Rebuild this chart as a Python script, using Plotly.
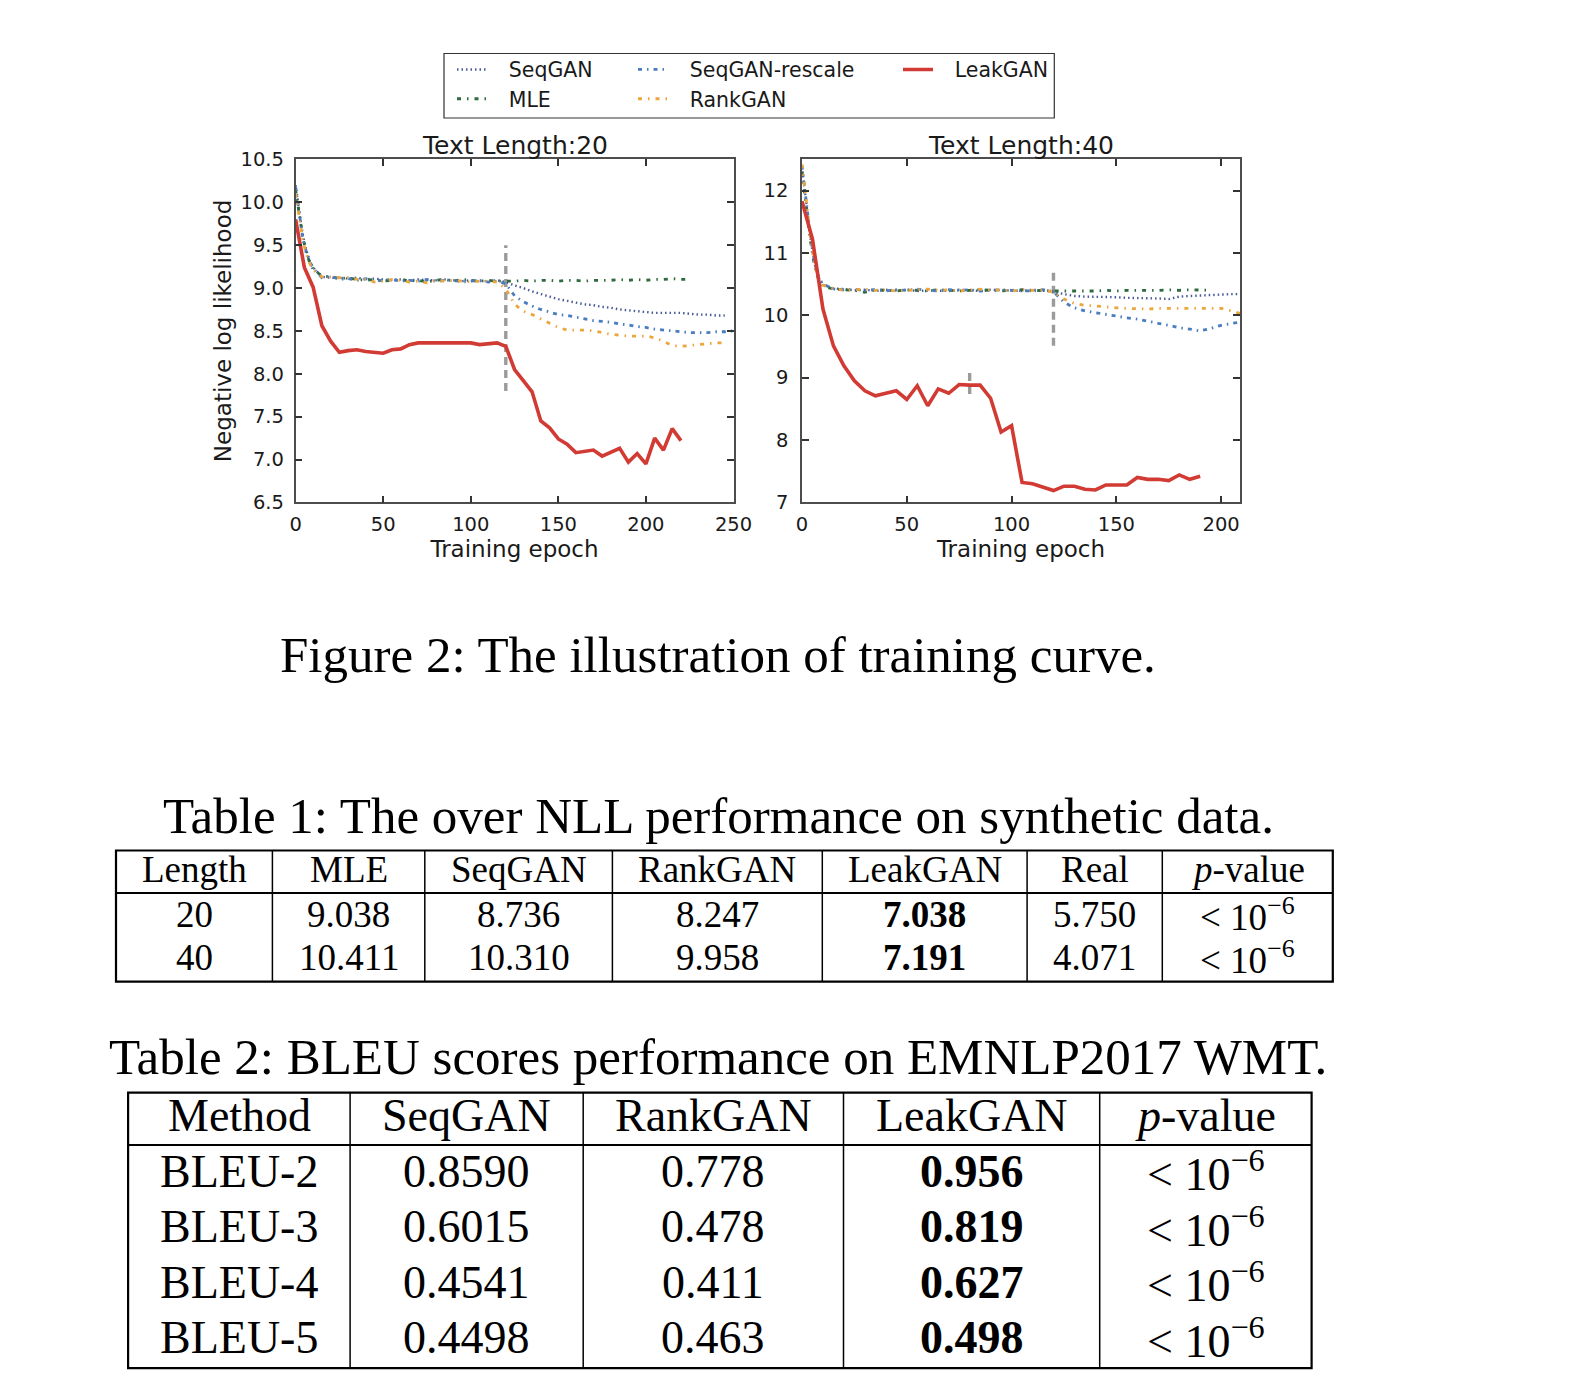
import plotly.graph_objects as go

W, H = 1582, 1386

# ---------------- data: Text Length 20 ----------------
EP_PRE = [0, 2, 4, 6, 8, 10, 15, 20, 25, 30, 35, 40, 45, 50, 55, 60, 65, 70,
          75, 80, 85, 90, 95, 100, 105, 110, 115, 120]

L20_MLE_EP_POST = [125, 130, 135, 140, 145, 150, 155, 160, 165, 170, 175, 180,
                   185, 190, 195, 200, 205, 210, 215, 220, 225]
L20_MLE = [10.15, 9.85, 9.60, 9.42, 9.30, 9.22, 9.14, 9.13, 9.11, 9.12, 9.10, 9.09,
           9.10, 9.08, 9.09, 9.10, 9.08, 9.09, 9.07, 9.09, 9.10, 9.08, 9.10, 9.09,
           9.08, 9.09, 9.08, 9.08,
           9.08, 9.09, 9.08, 9.09, 9.09, 9.08, 9.09, 9.09, 9.08, 9.09, 9.09, 9.09,
           9.10, 9.09, 9.10, 9.09, 9.10, 9.10, 9.11, 9.10, 9.10]

L20_SEQ_EP_POST = [125, 130, 135, 140, 145, 150, 155, 160, 165, 170, 175, 180,
                   185, 190, 195, 200, 205, 210, 215, 220, 225, 230, 235, 240, 245]
L20_SEQ = [10.20, 9.90, 9.63, 9.45, 9.32, 9.24, 9.13, 9.12, 9.12, 9.11, 9.12, 9.10,
           9.11, 9.10, 9.09, 9.10, 9.09, 9.10, 9.09, 9.09, 9.10, 9.09, 9.08, 9.09,
           9.08, 9.08, 9.09, 9.07,
           9.03, 9.00, 8.96, 8.93, 8.90, 8.87, 8.85, 8.83, 8.81, 8.80, 8.78, 8.77,
           8.75, 8.74, 8.73, 8.72, 8.71, 8.71, 8.71, 8.71, 8.70, 8.69, 8.69, 8.68, 8.68]

L20_RES_EP_POST = [125, 130, 135, 140, 145, 150, 155, 160, 165, 170, 175, 180,
                   185, 190, 195, 200, 205, 210, 215, 220, 225, 230, 235, 240, 245, 250]
L20_RES = [10.18, 9.88, 9.60, 9.43, 9.31, 9.23, 9.12, 9.14, 9.10, 9.11, 9.09, 9.11,
           9.08, 9.09, 9.10, 9.08, 9.09, 9.08, 9.10, 9.08, 9.09, 9.09, 9.07, 9.08,
           9.09, 9.07, 9.08, 9.05,
           8.91, 8.84, 8.79, 8.75, 8.72, 8.69, 8.68, 8.66, 8.64, 8.62, 8.61, 8.60,
           8.58, 8.57, 8.55, 8.54, 8.52, 8.51, 8.50, 8.49, 8.48, 8.48, 8.48, 8.49,
           8.49, 8.50]

L20_RANK_EP_POST = [125, 130, 135, 140, 145, 150, 155, 160, 165, 170, 175, 180,
                    185, 190, 195, 200, 205, 210, 215, 220, 225, 230, 235, 240, 245]
L20_RANK = [10.10, 9.82, 9.58, 9.40, 9.29, 9.21, 9.13, 9.13, 9.12, 9.12, 9.10, 9.10,
            9.07, 9.08, 9.10, 9.09, 9.07, 9.08, 9.06, 9.09, 9.08, 9.09, 9.08, 9.07,
            9.08, 9.08, 9.07, 8.99,
            8.81, 8.73, 8.69, 8.64, 8.59, 8.54, 8.51, 8.51, 8.51, 8.50, 8.48, 8.46,
            8.45, 8.44, 8.44, 8.44, 8.42, 8.38, 8.33, 8.32, 8.33, 8.34, 8.35, 8.36, 8.36]

L20_LEAK_EP = [0, 5, 10, 15, 20, 25, 30, 35, 40, 45, 50, 55, 60, 65, 70, 75, 80,
               85, 90, 95, 100, 105, 110, 115, 120, 125, 130, 135, 140, 145, 150,
               155, 160, 165, 170, 175, 180, 185, 190, 195, 200, 205, 210, 215, 220]
L20_LEAK = [9.80, 9.24, 9.01, 8.56, 8.38, 8.25, 8.27, 8.28, 8.26, 8.25, 8.24, 8.28,
            8.29, 8.34, 8.36, 8.36, 8.36, 8.36, 8.35, 8.36, 8.36, 8.34, 8.35, 8.36,
            8.32, 8.05, 7.92, 7.79, 7.45, 7.37, 7.24, 7.18, 7.08, 7.10, 7.11, 7.04,
            7.08, 7.13, 6.97, 7.07, 6.95, 7.25, 7.11, 7.36, 7.22]

# reference (switch) markers: epoch, y from, y to
L20_MARKS = [(120, 7.80, 9.50)]

# ---------------- data: Text Length 40 ----------------
L40_MLE_EP_POST = [125, 130, 135, 140, 145, 150, 155, 160, 165, 170, 175, 180,
                   185, 190, 195]
L40_MLE = [12.30, 11.72, 11.20, 10.78, 10.57, 10.47, 10.42, 10.41, 10.40, 10.37,
           10.41, 10.40, 10.39, 10.41, 10.40, 10.39, 10.41, 10.40, 10.39, 10.40,
           10.41, 10.40, 10.39, 10.40, 10.41, 10.39, 10.40, 10.39,
           10.39, 10.38, 10.39, 10.39, 10.40, 10.39, 10.40, 10.40, 10.39, 10.40,
           10.41, 10.40, 10.41, 10.40, 10.40]

L40_EP_POST = [125, 130, 135, 140, 145, 150, 155, 160, 165, 170, 175, 180, 185,
               190, 195, 200, 205, 209]
L40_SEQ = [12.38, 11.78, 11.25, 10.82, 10.60, 10.49, 10.43, 10.42, 10.40, 10.41,
           10.39, 10.41, 10.40, 10.41, 10.39, 10.40, 10.40, 10.39, 10.41, 10.40,
           10.39, 10.41, 10.40, 10.40, 10.39, 10.41, 10.40, 10.38,
           10.34, 10.31, 10.30, 10.30, 10.30, 10.29, 10.28, 10.28, 10.27, 10.27,
           10.26, 10.30, 10.31, 10.32, 10.33, 10.33, 10.34, 10.34]
L40_RES = [12.40, 11.80, 11.27, 10.84, 10.60, 10.50, 10.42, 10.41, 10.42, 10.40,
           10.41, 10.39, 10.41, 10.40, 10.42, 10.40, 10.39, 10.41, 10.40, 10.41,
           10.39, 10.40, 10.41, 10.40, 10.40, 10.39, 10.41, 10.38,
           10.21, 10.12, 10.07, 10.04, 10.01, 9.99, 9.96, 9.94, 9.90, 9.87,
           9.84, 9.80, 9.78, 9.75, 9.79, 9.84, 9.87, 9.89]
L40_RANK = [12.42, 11.82, 11.28, 10.80, 10.58, 10.48, 10.43, 10.40, 10.41, 10.42,
            10.40, 10.41, 10.39, 10.40, 10.41, 10.42, 10.40, 10.41, 10.39, 10.40,
            10.42, 10.40, 10.41, 10.39, 10.41, 10.40, 10.41, 10.37,
            10.26, 10.19, 10.16, 10.15, 10.13, 10.12, 10.11, 10.10, 10.10, 10.11,
            10.11, 10.11, 10.12, 10.12, 10.11, 10.11, 10.07, 10.03]

L40_LEAK_EP = [0, 5, 10, 15, 20, 25, 30, 35, 40, 45, 50, 55, 60, 65, 70, 75, 80,
               85, 90, 95, 100, 105, 110, 115, 120, 125, 130, 135, 140, 145, 150,
               155, 160, 165, 170, 175, 180, 185, 190]
L40_LEAK = [11.83, 11.22, 10.10, 9.51, 9.19, 8.95, 8.79, 8.71, 8.75, 8.79, 8.65,
            8.87, 8.55, 8.82, 8.75, 8.89, 8.88, 8.88, 8.67, 8.13, 8.23, 7.32, 7.30,
            7.24, 7.19, 7.26, 7.26, 7.21, 7.20, 7.28, 7.28, 7.28, 7.40, 7.37, 7.37,
            7.35, 7.44, 7.37, 7.42]

L40_MARKS = [(120, 9.51, 10.74), (80, 8.74, 9.08)]

# ---------------- data: tables ----------------
CAPTION = "Figure 2: The illustration of training curve."
T1_TITLE = "Table 1: The over NLL performance on synthetic data."
T1_HEADER = ["Length", "MLE", "SeqGAN", "RankGAN", "LeakGAN", "Real", "<i>p</i>-value"]
T1_ROWS = [["20", "9.038", "8.736", "8.247", "7.038", "5.750", "&lt; 10<sup>−6</sup>"],
           ["40", "10.411", "10.310", "9.958", "7.191", "4.071", "&lt; 10<sup>−6</sup>"]]
T1_BOLD_COL = 4

T2_TITLE = "Table 2: BLEU scores performance on EMNLP2017 WMT."
T2_HEADER = ["Method", "SeqGAN", "RankGAN", "LeakGAN", "<i>p</i>-value"]
T2_ROWS = [["BLEU-2", "0.8590", "0.778", "0.956", "&lt; 10<sup>−6</sup>"],
           ["BLEU-3", "0.6015", "0.478", "0.819", "&lt; 10<sup>−6</sup>"],
           ["BLEU-4", "0.4541", "0.411", "0.627", "&lt; 10<sup>−6</sup>"],
           ["BLEU-5", "0.4498", "0.463", "0.498", "&lt; 10<sup>−6</sup>"]]
T2_BOLD_COL = 3

# ---------------- styles ----------------
SANS = "DejaVu Sans"
SERIF = "Liberation Serif"
STYLE = {
    "SeqGAN": dict(color="#4a5b98", width=2.4, dash="1.5px,3px"),
    "MLE": dict(color="#2e6a3e", width=2.8, dash="4px,6px,1.5px,6px"),
    "SeqGAN-rescale": dict(color="#4a7cc0", width=2.8, dash="4px,5px,1.5px,5px"),
    "RankGAN": dict(color="#eba63c", width=2.8, dash="4px,6px,1.5px,6px"),
    "LeakGAN": dict(color="#d23b34", width=3.6, dash="solid"),
}
LEGEND_OF = {"SeqGAN": "legend", "MLE": "legend2", "SeqGAN-rescale": "legend3",
             "RankGAN": "legend4", "LeakGAN": "legend5"}
GAP = "\u2002\u00a0"  # spacing between legend sample and label


def px(x):
    return x / W


def py(y):
    return 1 - y / H


fig = go.Figure()

series20 = [
    ("SeqGAN", EP_PRE + L20_SEQ_EP_POST, L20_SEQ),
    ("MLE", EP_PRE + L20_MLE_EP_POST, L20_MLE),
    ("SeqGAN-rescale", EP_PRE + L20_RES_EP_POST, L20_RES),
    ("RankGAN", EP_PRE + L20_RANK_EP_POST, L20_RANK),
    ("LeakGAN", L20_LEAK_EP, L20_LEAK),
]
series40 = [
    ("SeqGAN", EP_PRE + L40_EP_POST, L40_SEQ),
    ("MLE", EP_PRE + L40_MLE_EP_POST, L40_MLE),
    ("SeqGAN-rescale", EP_PRE + L40_EP_POST, L40_RES),
    ("RankGAN", EP_PRE + L40_EP_POST, L40_RANK),
    ("LeakGAN", L40_LEAK_EP, L40_LEAK),
]

for marks, xa, ya in [(L20_MARKS, "x", "y"), (L40_MARKS, "x2", "y2")]:
    for ep, y0, y1 in marks:
        fig.add_trace(go.Scatter(x=[ep, ep], y=[y0, y1], mode="lines",
                                 line=dict(color="#9b9b9b", width=3.4, dash="8px,5px"),
                                 showlegend=False, hoverinfo="skip", xaxis=xa, yaxis=ya))

for name, xs, ys in series20:
    fig.add_trace(go.Scatter(x=xs, y=ys, mode="lines", name=GAP + name, line=STYLE[name],
                             legend=LEGEND_OF[name], showlegend=True,
                             xaxis="x", yaxis="y"))
for name, xs, ys in series40:
    fig.add_trace(go.Scatter(x=xs, y=ys, mode="lines", name=name, line=STYLE[name],
                             showlegend=False, xaxis="x2", yaxis="y2"))

# ---------------- axes ----------------
YDOM = [py(502.4), py(159.4)]
axis_common = dict(showline=True, linecolor="#4d4d4d", linewidth=1.6, mirror="ticks",
                   ticks="inside", ticklen=7, tickwidth=1.5, tickcolor="#333333",
                   showgrid=False, zeroline=False, automargin=False,
                   tickfont=dict(family=SANS, size=19.5, color="#1a1a1a"))
title_font = dict(family=SANS, size=23, color="#1a1a1a")

fig.update_layout(
    xaxis=dict(domain=[px(295.6), px(733.5)], range=[0, 250], tickvals=[0, 50, 100, 150, 200, 250],
               ticklabelstandoff=3,
               title=dict(text="Training epoch", font=title_font, standoff=5),
               anchor="y", **axis_common),
    yaxis=dict(domain=YDOM, range=[6.5, 10.5], dtick=0.5, tick0=6.5, tickformat=".1f",
               ticklabelstandoff=6,
               title=dict(text="Negative log likelihood", font=title_font, standoff=2),
               anchor="x", **axis_common),
    xaxis2=dict(domain=[px(802), px(1240)], range=[0, 209], tickvals=[0, 50, 100, 150, 200],
                ticklabelstandoff=3,
                title=dict(text="Training epoch", font=title_font, standoff=5),
                anchor="y2", **axis_common),
    yaxis2=dict(domain=YDOM, range=[7, 12.5], tickvals=[7, 8, 9, 10, 11, 12],
                ticklabelstandoff=8,
                anchor="x2", **axis_common),
)

# ---------------- legends ----------------
leg_font = dict(family=SANS, size=20.5, color="#1a1a1a")
leg_pos = {"legend": (452, 69.6), "legend2": (452, 98.9), "legend3": (633, 69.6),
           "legend4": (633, 98.9), "legend5": (898, 69.6)}
for key, (lx, ly) in leg_pos.items():
    fig.update_layout({key: dict(x=px(lx), y=py(ly), xanchor="left", yanchor="middle",
                                 bgcolor="rgba(0,0,0,0)", borderwidth=0, font=leg_font,
                                 itemwidth=30, tracegroupgap=0)})

shapes = [dict(type="rect", xref="paper", yref="paper", x0=px(444), x1=px(1054.3),
               y0=py(118), y1=py(53.5), line=dict(color="#333333", width=1.2))]
annotations = []

# subplot titles
for txt, xc in [("Text Length:20", (295.6 + 733.5) / 2), ("Text Length:40", (802 + 1240) / 2)]:
    annotations.append(dict(text=txt, x=px(xc), y=py(159.4), xref="paper", yref="paper",
                            xanchor="center", yanchor="bottom", showarrow=False, yshift=-3,
                            font=dict(family=SANS, size=25, color="#1a1a1a")))

# caption and table titles
for txt, yc in [(CAPTION, 655), (T1_TITLE, 816), (T2_TITLE, 1057)]:
    annotations.append(dict(text=txt, x=px(718), y=py(yc), xref="paper", yref="paper",
                            xanchor="center", yanchor="middle", showarrow=False,
                            font=dict(family=SERIF, size=51, color="#000000")))


def draw_table(cols, top, header_bottom, bottom, row_centers, header, rows, bold_col, fsize):
    left, right = cols[0], cols[-1]
    shapes.append(dict(type="rect", xref="paper", yref="paper", x0=px(left), x1=px(right),
                       y0=py(bottom), y1=py(top), line=dict(color="#000000", width=2.2)))
    shapes.append(dict(type="line", xref="paper", yref="paper", x0=px(left), x1=px(right),
                       y0=py(header_bottom), y1=py(header_bottom),
                       line=dict(color="#000000", width=2)))
    for c in cols[1:-1]:
        shapes.append(dict(type="line", xref="paper", yref="paper", x0=px(c), x1=px(c),
                           y0=py(bottom), y1=py(top), line=dict(color="#000000", width=1.5)))
    centers = [(cols[i] + cols[i + 1]) / 2 for i in range(len(cols) - 1)]
    all_rows = [header] + rows
    for r, row in enumerate(all_rows):
        for c, cell in enumerate(row):
            txt = f"<b>{cell}</b>" if (r > 0 and c == bold_col) else cell
            annotations.append(dict(text=txt, x=px(centers[c]), y=py(row_centers[r]),
                                    xref="paper", yref="paper", xanchor="center",
                                    yanchor="middle", showarrow=False,
                                    font=dict(family=SERIF, size=fsize, color="#000000")))


draw_table([116.0, 272.4, 424.8, 612.4, 822.3, 1027.1, 1162.3, 1332.8],
           850.5, 892.9, 981.7, [869.0, 914.1, 957.5], T1_HEADER, T1_ROWS, T1_BOLD_COL, 37)
draw_table([128.1, 350.1, 583.2, 843.5, 1099.7, 1311.6],
           1092.7, 1145.1, 1368.1, [1115.0, 1171.4, 1226.9, 1282.4, 1337.8],
           T2_HEADER, T2_ROWS, T2_BOLD_COL, 46)

fig.update_layout(width=W, height=H, margin=dict(l=0, r=0, t=0, b=0, autoexpand=False),
                  paper_bgcolor="white", plot_bgcolor="white",
                  shapes=shapes, annotations=annotations)

fig.write_html("out.html")
